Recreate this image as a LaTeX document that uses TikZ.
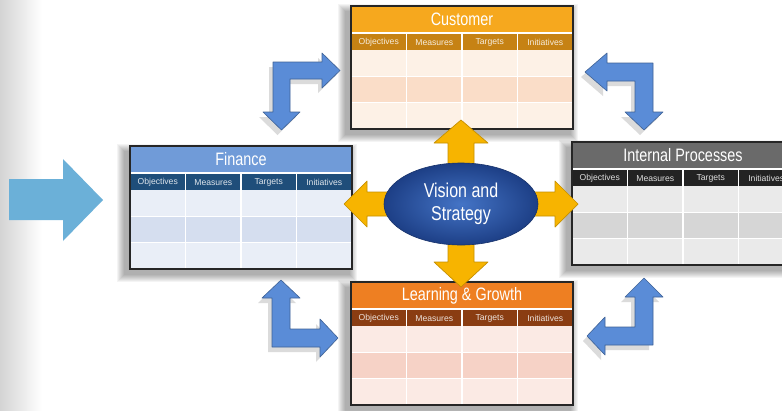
\documentclass[tikz,border=0pt]{standalone}
\usepackage{fontspec}
\setmainfont{Liberation Sans}
\newfontfamily\titlefont[FakeStretch=0.8]{Liberation Sans}
\usetikzlibrary{shapes.geometric}

\definecolor{custtitle}{HTML}{F6A81E}
\definecolor{custhead}{HTML}{C68214}
\definecolor{custlight}{HTML}{FDF1E6}
\definecolor{custmid}{HTML}{FADDC8}
\definecolor{fintitle}{HTML}{709BD8}
\definecolor{finhead}{HTML}{1F4E7A}
\definecolor{finlight}{HTML}{E9EEF7}
\definecolor{finmid}{HTML}{D5DEEF}
\definecolor{proctitle}{HTML}{6A6A6A}
\definecolor{prochead}{HTML}{232323}
\definecolor{proclight}{HTML}{EAEAEA}
\definecolor{procmid}{HTML}{D6D6D6}
\definecolor{learntitle}{HTML}{EE7F22}
\definecolor{learnhead}{HTML}{8A3D12}
\definecolor{learnlight}{HTML}{FBEAE4}
\definecolor{learnmid}{HTML}{F6D2C6}
\definecolor{bendblue}{HTML}{5A8CD7}
\definecolor{inblue}{HTML}{6BB0D8}
\definecolor{crossgold}{HTML}{F7B400}
\definecolor{visionin}{HTML}{4474C6}
\definecolor{visionout}{HTML}{1D3F86}

% one perspective card: name, left x, top y, title, title / header / light / mid colours
\newcommand{\bsccard}[8]{%
  \begin{scope}[shift={(#2,#3)}]
    \foreach \k in {1,...,8}
      \fill[cardshadow] (-5-\k,6-\k) rectangle (219+\k,128+\k);
    \fill[#7] (0,0) rectangle (222,123);
    \fill[#8] (0,70.3) rectangle (222,96.6);
    \fill[#5] (0,0) rectangle (222,26);
    \fill[#6] (0,28) rectangle (222,44);
    \draw[cardgrid] (0,27) -- (222,27) (0,70.3) -- (222,70.3) (0,96.6) -- (222,96.6);
    \foreach \c in {55.5,111,166.5}
      \draw[cardgrid] (\c,28) -- (\c,123);
    \node[cardtitle] (#1) at (111,13.5) {#4};
    \foreach \lbl [count=\i] in {Objectives,Measures,Targets,Initiatives}
      \node[colhead,text=white!85!#6] (#1-\i) at ({55.5*\i-27.75},36.5) {\lbl};
    \draw[cardedge] (0,0) rectangle (222,123);
  \end{scope}}

\begin{document}
\begin{tikzpicture}[x=1pt,y=-1pt]
    \tikzset{
      cardshadow/.style={fill=black,opacity=0.045},
      cardgrid/.style={white,line width=1.2pt},
      cardedge/.style={draw=black!85,line width=1.3pt},
      cardtitle/.style={font=\titlefont\fontsize{18}{18}\selectfont,text=white,inner sep=0pt},
      colhead/.style={font=\fontsize{8.6}{9}\selectfont,inner sep=0pt},
      bluebend/.style={fill=bendblue,draw=bendblue!70!black,line width=0.6pt,line join=round,
        preaction={fill=black,opacity=0.14,transform canvas={shift={(-4pt,-5pt)}}}},
      goldcross/.style={fill=crossgold,draw=crossgold!80!black,line width=0.7pt,line join=round},
      vision/.style={ellipse,minimum width=154,minimum height=82,inner color=visionin,
        outer color=visionout,draw=visionout!80!black,line width=0.6pt,text=white,
        align=center,font=\titlefont\fontsize{20}{23}\selectfont}
    }

    \useasboundingbox (0,0) rectangle (782,410);
    \clip (0,0) rectangle (782,410);

    % Background strip on the left
    \fill[white] (0,0) rectangle (782,410);
    \shade[left color=black!17,right color=white] (0,0) rectangle (42,410);

    % The four cards
    \bsccard{customer}{351}{6}{Customer}{custtitle}{custhead}{custlight}{custmid}
    \bsccard{finance}{130}{146}{Finance}{fintitle}{finhead}{finlight}{finmid}
    \bsccard{process}{572}{142}{Internal Processes}{proctitle}{prochead}{proclight}{procmid}
    \bsccard{learning}{351}{282}{Learning \& Growth}{learntitle}{learnhead}{learnlight}{learnmid}

    % Input arrow
    \fill[inblue] (9,179) -- (63,179) -- (63,159) -- (103,200) -- (63,241) -- (63,220) -- (9,220) -- cycle;

    % Bent arrows between the cards
    \draw[bluebend] (273,62) -- (322,62) -- (322,53) -- (340,70.5) -- (322,88) -- (322,79)
      -- (290,79) -- (290,112) -- (300,112) -- (281.5,130) -- (263,112) -- (273,112) -- cycle;
    \draw[bluebend] (653,63) -- (607,63) -- (607,53) -- (585,72) -- (607,91) -- (607,81)
      -- (635,81) -- (635,112) -- (625,112) -- (644,130) -- (663,112) -- (653,112) -- cycle;
    \draw[bluebend] (272,347) -- (272,298) -- (262,298) -- (281,280) -- (300,298) -- (290,298)
      -- (290,329) -- (320,329) -- (320,319) -- (338,338) -- (320,357) -- (320,347) -- cycle;
    \draw[bluebend] (653,345) -- (653,297) -- (663,297) -- (644,278) -- (625,297) -- (635,297)
      -- (635,327) -- (605,327) -- (605,317) -- (587,336) -- (605,355) -- (605,345) -- cycle;

    % Cross of arrows behind the centre
    \draw[goldcross] (448,143) -- (434,143) -- (461,120) -- (488,143) -- (474,143) -- (474,192)
      -- (555,192) -- (555,181) -- (578,204) -- (555,227) -- (555,216) -- (474,216)
      -- (474,262) -- (488,262) -- (461,287) -- (434,262) -- (448,262) -- (448,216)
      -- (367,216) -- (367,227) -- (344,204) -- (367,181) -- (367,192) -- (448,192) -- cycle;

    \node[vision] (vision) at (461,204) {Vision and\\Strategy};
\end{tikzpicture}
\end{document}
